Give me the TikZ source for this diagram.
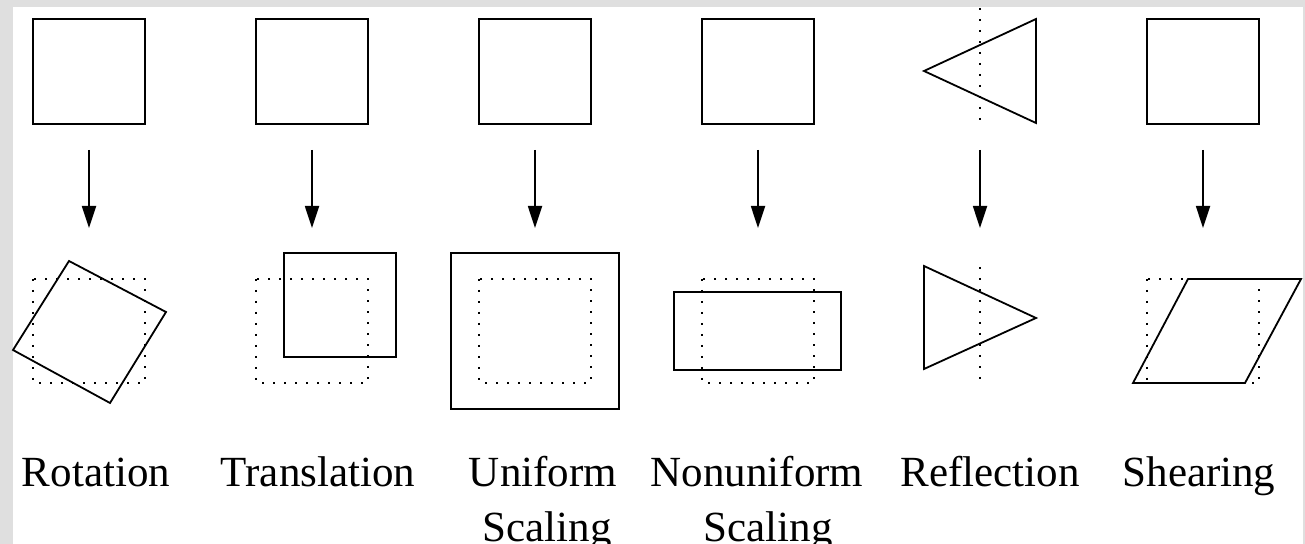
\documentclass[tikz,border=0pt]{standalone}
\usepackage{fontspec}
\setmainfont{Liberation Serif}
\usetikzlibrary{arrows.meta}
\begin{document}
\begin{tikzpicture}[x=0.5pt,y=-0.5pt,
  solidln/.style={draw=black,line width=0.9pt,line join=miter},
  dotln/.style={draw=black,line width=1.1pt,dash pattern=on 1.1pt off 4.4pt},
  arr/.style={draw=black,line width=0.9pt,-{Triangle[length=11pt,width=7pt]}},
  lab/.style={anchor=base,inner sep=0pt,font=\fontsize{21.5}{26}\selectfont}]
\useasboundingbox (0,0) rectangle (1305,544);
\fill[gray!25!white] (0,0) rectangle (1305,544);
\fill[white] (13,7) rectangle (1303,544);
% top originals
\foreach \c in {89,312,535,758,1203}{
  \draw[solidln] (\c-56,19) rectangle (\c+56,124);
}
\draw[solidln] (924,71) -- (1036,19) -- (1036,123) -- cycle;
\draw[dotln] (980,8) -- (980,123);
% arrows
\foreach \c/\n in {89/1,312/2,535/3,758/4,980/5,1203/6}{
  \coordinate (s\n) at (\c,150);
  \coordinate (e\n) at (\c,228);
  \draw[arr] (s\n) -- (e\n);
}
% dotted references
\foreach \c in {89,312,535,758,1203}{
  \draw[dotln] (\c-56,279) rectangle (\c+56,383);
}
% Rotation
\draw[solidln] (69,261) -- (166,312) -- (110,403) -- (13,350) -- cycle;
% Translation
\draw[solidln] (284,253) rectangle (396,357);
% Uniform scaling
\draw[solidln] (451,253) rectangle (619,409);
% Nonuniform scaling
\draw[solidln] (674,292) rectangle (841,370);
% Reflection
\draw[solidln] (924,266) -- (924,369) -- (1036,318) -- cycle;
\draw[dotln] (980,267) -- (980,383);
% Shearing
\draw[solidln] (1133,383) -- (1245,383) -- (1301,279) -- (1188,279) -- cycle;
% labels
\node[lab] (t1) at (96,487) {Rotation};
\node[lab] (t2) at (318,487) {Translation};
\node[lab] (t3) at (543,487) {Uniform};
\node[lab] (t3b) at (547,541) {Scaling};
\node[lab] (t4) at (757,487) {Nonuniform};
\node[lab] (t4b) at (768,541) {Scaling};
\node[lab] (t5) at (990,487) {Reflection};
\node[lab] (t6) at (1199,487) {Shearing};
\end{tikzpicture}
\end{document}
